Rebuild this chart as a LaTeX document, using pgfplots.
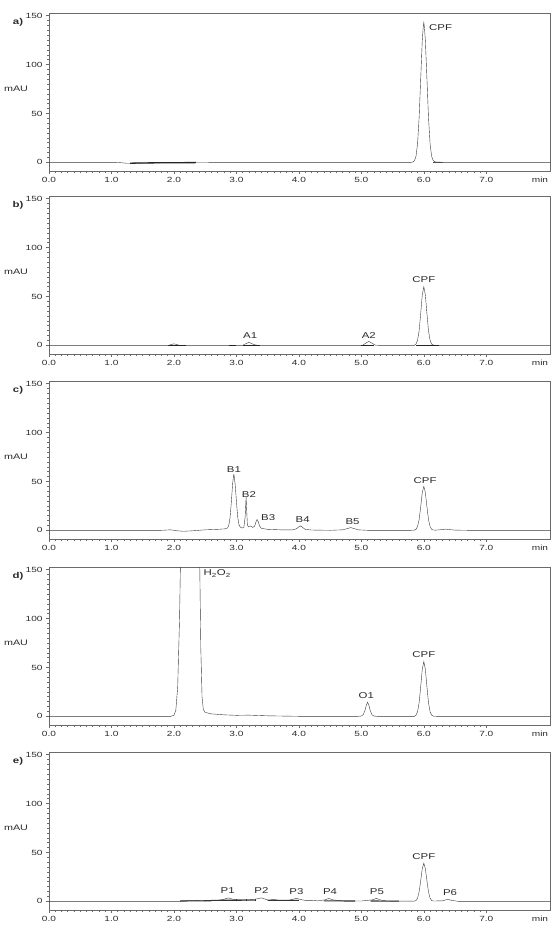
\documentclass[border=0pt]{standalone}
\usepackage{fontspec}
\setmainfont{Liberation Sans}[FakeStretch=1.35]
\usepackage{pgfplots}
\pgfplotsset{compat=1.18}
\definecolor{sig}{HTML}{383838}
\definecolor{boxc}{HTML}{6A6A6A}
\definecolor{txt}{HTML}{2A2A2A}
\pgfplotsset{
  chrom/.style={
    scale only axis, width=501bp, height=158bp,
    anchor=north west,
    xmin=0, xmax=8.02, ymin=-8.9, ymax=152.8,
    xtick={0,1,2,3,4,5,6,7},
    xticklabels={0.0,1.0,2.0,3.0,4.0,5.0,6.0,7.0},
    minor x tick num=9,
    ytick={0,50,100,150}, minor y tick num=9,
    tick align=outside, xtick pos=bottom, ytick pos=left,
    major tick length=3bp, minor tick length=1.8bp,
    axis line style={boxc, line width=0.7pt},
    every tick/.style={boxc, line width=0.55pt},
    ticklabel style={font=\fontsize{7.5}{8}\selectfont, text=txt},
    /pgf/number format/assume math mode=true,
    unbounded coords=jump,
    cycle list={{draw=sig, line width=0.8pt, no marks}},
    clip mode=individual,
  },
}
\tikzset{plab/.style={font=\fontsize{8.5}{9}\selectfont, text=txt}}
\newcommand{\panelextras}[1]{%
  \node[font=\bfseries\fontsize{8.5}{9}\selectfont, text=txt, xshift=-31bp] at (rel axis cs:0,0.938) {#1};
  \node[font=\fontsize{8}{9}\selectfont, text=txt, xshift=-33bp] at (rel axis cs:0,0.52) {mAU};
  \node[font=\fontsize{7.5}{8}\selectfont, text=txt, anchor=north, yshift=-3bp] at (rel axis cs:0.98,0) {min};
}
\begin{document}
\begin{tikzpicture}
\useasboundingbox (0,0) rectangle (553bp,-925bp);

% ---------- a)
\begin{axis}[chrom, at={(49bp,-13bp)}]
\addplot coordinates {(0,0) (1.05,0) (1.15,-0.4) (1.25,-1.0) (1.4,-0.9) (1.6,-0.6) (2.0,-0.4) (2.4,-0.2) (3,0) (5.8,0)
 (5.825,0.3) (5.85,1.6) (5.875,6.2) (5.9,19.1) (5.925,45.8) (5.95,85.5) (5.975,124.4) (5.99,138) (6.0,143) (6.01,138) (6.025,124.4) (6.05,85.5) (6.075,45.8) (6.1,19.1) (6.125,6.2) (6.15,1.8) (6.175,0.6) (6.2,0.3) (6.3,0) (8.02,0)};
\addplot[line width=1.3pt, draw=black!85] coordinates {(1.3,-0.9) (1.6,-0.6) (2.0,-0.4) (2.35,-0.3)};
\addplot[line width=0.9pt, draw=black!70] coordinates {(6.15,0) (6.3,0)};
\node[plab, anchor=west] at (axis cs:6.03,138) {CPF};
\panelextras{a)}
\end{axis}

% ---------- b)
\begin{axis}[chrom, at={(49bp,-196bp)}]
\addplot coordinates {(0,0) (1.92,0) (1.96,0.9) (2.0,1.5) (2.04,0.9) (2.08,0.1) (2.15,0) (3.1,0) (3.15,1.6) (3.2,3) (3.25,1.6) (3.3,0.4) (3.35,0) (5.02,0) (5.07,2.2) (5.12,4) (5.17,2.2) (5.22,0.2) (5.27,0) (5.85,0)
 (5.875,1.3) (5.9,5.1) (5.925,14.9) (5.95,32.4) (5.975,51.4) (6.0,60) (6.025,51.4) (6.05,32.4) (6.075,14.9) (6.1,5.1) (6.125,1.3) (6.15,0.2) (6.2,0) (8.02,0)};
\addplot[line width=1.2pt, draw=black!85] coordinates {(1.9,-0.4) (2.2,-0.4) (2.9,nan) (2.88,-0.3) (3.0,-0.3) (3.05,nan) (3.1,-0.3) (3.38,-0.3) (3.5,nan) (5.0,-0.3) (5.2,-0.3) (5.5,nan) (5.88,-0.3) (6.25,-0.3)};
\node[plab, anchor=south] at (axis cs:3.22,3) {A1};
\node[plab, anchor=south] at (axis cs:5.12,3.5) {A2};
\node[plab, anchor=south] at (axis cs:6.0,60.5) {CPF};
\panelextras{b)}
\end{axis}

% ---------- c)
\begin{axis}[chrom, at={(49bp,-381bp)}]
\addplot coordinates {(0,0) (1.8,0) (1.95,0.5) (2.05,-0.5) (2.15,-1) (2.3,-0.5) (2.5,0.5) (2.7,1) (2.82,1.5)
 (2.86,2.5) (2.88,5.5) (2.9,14) (2.92,30) (2.94,48) (2.955,56.5) (2.96,57) (2.965,55) (2.98,47) (3.0,30) (3.02,14) (3.04,6) (3.06,3.5) (3.08,2.5) (3.1,2.5)
 (3.12,3) (3.14,14) (3.155,34) (3.165,20) (3.175,6) (3.19,3.5) (3.22,4.5) (3.26,3) (3.29,4) (3.31,8) (3.33,11) (3.35,9) (3.37,4.5) (3.4,2) (3.5,1) (3.7,0.5) (3.9,0.5)
 (3.96,1.5) (4.0,3.5) (4.03,4.5) (4.06,3) (4.1,1) (4.2,0.3) (4.5,0) (4.7,0.5) (4.78,1.8) (4.83,2.8) (4.88,1.8) (4.95,0.5) (5.1,0) (5.8,0)
 (5.85,0.2) (5.875,1) (5.9,4) (5.925,11) (5.95,24) (5.975,38.5) (6.0,45) (6.025,38.5) (6.05,24) (6.075,11) (6.1,4) (6.125,1) (6.15,0.3) (6.2,0.2) (6.3,0.8) (6.35,1.2) (6.4,0.8) (6.5,0.2) (6.7,0) (8.02,0)};
\node[plab, anchor=south] at (axis cs:2.96,56) {B1};
\node[plab, anchor=south] at (axis cs:3.2,30) {B2};
\node[plab, anchor=west] at (axis cs:3.34,13.5) {B3};
\node[plab, anchor=south] at (axis cs:4.06,4) {B4};
\node[plab, anchor=south] at (axis cs:4.86,2) {B5};
\node[plab, anchor=south] at (axis cs:6.02,44) {CPF};
\panelextras{c)}
\end{axis}

% ---------- d)
\begin{axis}[chrom, at={(49bp,-567bp)}]
\addplot coordinates {(0,0) (1.95,0) (2.0,1) (2.03,6) (2.06,30) (2.09,100) (2.12,220) (2.2,400) (2.3,400) (2.38,300) (2.41,170) (2.43,70) (2.45,20) (2.47,7) (2.5,4) (2.6,2.5) (2.8,1.5) (3.0,1) (3.2,1.2) (3.5,0.5) (4,0) (4.95,0)
 (5.0,0.3) (5.03,1.6) (5.06,6.4) (5.08,11.5) (5.1,14.5) (5.12,11.5) (5.14,6.4) (5.17,1.6) (5.2,0.3) (5.25,0) (5.85,0)
 (5.875,1.2) (5.9,4.8) (5.925,13.9) (5.95,30.2) (5.975,48) (6.0,56) (6.025,48) (6.05,30.2) (6.075,13.9) (6.1,4.8) (6.125,1.2) (6.15,0.2) (6.2,0) (8.02,0)};
\node[plab, anchor=west] at (axis cs:2.42,146) {H\textsubscript{2}O\textsubscript{2}};
\node[plab, anchor=south] at (axis cs:5.08,14.5) {O1};
\node[plab, anchor=south] at (axis cs:6.0,56) {CPF};
\panelextras{d)}
\end{axis}

% ---------- e)
\begin{axis}[chrom, at={(49bp,-752bp)}]
\addplot coordinates {(0,0) (2.1,0) (2.15,0.5) (2.3,0.8) (2.5,0.5) (2.6,1) (2.75,1.2) (2.82,2.5) (2.87,3.5) (2.92,2.5) (3.0,1.5) (3.2,1.5) (3.33,2.5) (3.4,3.5) (3.46,2.2) (3.52,1.2) (3.6,2) (3.66,1.2) (3.8,0.6) (3.9,2) (3.96,3) (4.02,2) (4.1,1) (4.2,1) (4.3,0.5) (4.42,1.5) (4.48,3) (4.54,1.5) (4.62,1) (4.7,0.3) (5.0,0.3) (5.18,1.5) (5.24,3) (5.3,1.5) (5.4,0.3) (5.6,0.2) (5.85,0.2)
 (5.875,0.8) (5.9,3.3) (5.925,9.7) (5.95,21.1) (5.975,33.4) (6.0,39) (6.025,33.4) (6.05,21.1) (6.075,9.7) (6.1,3.3) (6.125,0.8) (6.15,0.3) (6.3,0.5) (6.35,1.5) (6.39,2) (6.44,1) (6.55,0) (8.02,0)};
\addplot[line width=1.1pt, draw=black!80] coordinates {(2.1,0.3) (2.6,0.6) (2.65,nan) (2.6,1) (3.3,1.2) (3.35,nan) (3.5,1) (4.0,1) (4.05,nan) (4.4,0.5) (4.9,0.3) (4.95,nan) (5.15,0.3) (5.6,0.2)};
\addplot[line width=0.5pt, draw=black!80] coordinates {(3.0,0) (3.0,2.5) (3.05,nan) (3.15,0) (3.15,2.5) (3.2,nan) (3.3,0) (3.3,2.5)};
\node[plab, anchor=south] at (axis cs:2.86,4) {P1};
\node[plab, anchor=south] at (axis cs:3.4,4) {P2};
\node[plab, anchor=south] at (axis cs:3.96,3.5) {P3};
\node[plab, anchor=south] at (axis cs:4.5,3.5) {P4};
\node[plab, anchor=south] at (axis cs:5.25,3.5) {P5};
\node[plab, anchor=south] at (axis cs:6.0,39) {CPF};
\node[plab, anchor=south] at (axis cs:6.42,2) {P6};
\panelextras{e)}
\end{axis}
\end{tikzpicture}
\end{document}
